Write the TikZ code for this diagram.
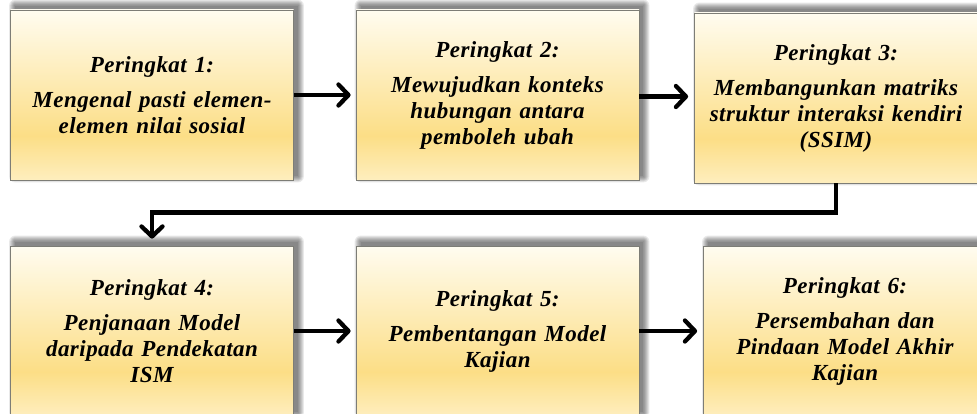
\documentclass[tikz,border=0pt]{standalone}
\usepackage{fontspec}
\newfontfamily\boxfont{Liberation Serif}[LetterSpace=2]
\usetikzlibrary{arrows.meta,calc,backgrounds}
\definecolor{gtop}{RGB}{255,252,240}
\definecolor{gmid}{RGB}{252,222,134}
\definecolor{gbot}{RGB}{254,238,190}
\definecolor{boxline}{RGB}{125,125,118}
\pgfdeclareverticalshading{boxshade}{100bp}{color(0bp)=(gbot); color(25bp)=(gbot); color(38bp)=(gmid); color(75bp)=(gtop); color(100bp)=(gtop)}
\tikzset{
  stagebox/.style={draw=boxline, line width=0.8pt, shading=boxshade,
    minimum width=283pt, minimum height=170pt, inner sep=0pt,
    text width=274pt, align=center,
    font=\boxfont\bfseries\itshape\fontsize{23}{26}\selectfont},
  arr/.style={line width=4.3pt, -{Straight Barb[length=10pt,width=21pt,round]},
    shorten >=5pt,
    preaction={draw=black!45, opacity=0.35, transform canvas={shift={(1.5pt,-1.5pt)}}}}
}
\begin{document}
\begin{tikzpicture}[x=1pt,y=1pt]
\useasboundingbox (0,0) rectangle (977,413);
\node[stagebox] (b1) at (152,318) {Peringkat 1:\\[9pt]Mengenal pasti elemen-\\elemen nilai sosial};
\node[stagebox] (b2) at (497.5,318) {Peringkat 2:\\[9pt]Mewujudkan konteks\\hubungan antara\\pemboleh ubah};
\node[stagebox] (b3) at (836,315) {Peringkat 3:\\[9pt]Membangunkan matriks\\struktur interaksi kendiri\\(SSIM)};
\node[stagebox] (b4) at (152,82) {Peringkat 4:\\[9pt]Penjanaan Model\\daripada Pendekatan\\ISM};
\node[stagebox] (b5) at (497.5,82) {Peringkat 5:\\[9pt]Pembentangan Model\\Kajian};
\node[stagebox] (b6) at (845,82) {Peringkat 6:\\[9pt]Persembahan dan\\Pindaan Model Akhir\\Kajian};
\begin{scope}[on background layer]
\foreach \n in {b1,b2,b3,b4,b5,b6}{
  \foreach \i in {0,...,6}{
    \fill[black, opacity=0.085, rounded corners=\i pt]
      ($(\n.south west)+(5-\i,4-\i)$) rectangle ($(\n.north east)+(4+\i,4+\i)$);
  }
}
\end{scope}
\draw[arr] (b1.east) -- (b2.west);
\draw[arr, shorten >=6pt] ($(b2.east)+(0,-1.5)$) -- ($(b3.west)+(0,1.5)$);
\draw[arr, shorten >=7pt] (b3.south) -- ++(0,-29) -| (b4.north);
\draw[arr] (b4.east) -- (b5.west);
\draw[arr, shorten >=6pt] (b5.east) -- (b6.west);
\end{tikzpicture}
\end{document}
